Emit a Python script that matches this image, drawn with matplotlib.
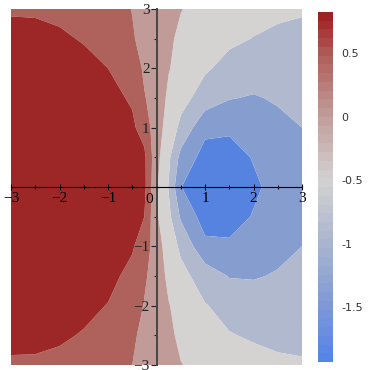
import numpy as np
import matplotlib
matplotlib.use('Agg')
import matplotlib.pyplot as plt
from matplotlib.colors import LinearSegmentedColormap, Normalize, ListedColormap
from matplotlib.cm import ScalarMappable
from matplotlib.ticker import MultipleLocator

# grid nodes (finer near x = 0 where the field changes fast)
xs = [-3, -2.5, -2, -1.5, -1, -0.5, -0.25, 0, 0.25, 0.5, 1, 1.5, 2, 2.5, 3]
ys = [-3, -2.5, -2, -1.5, -1, -0.5, 0, 0.5, 1, 1.5, 2, 2.5, 3]

# values, one row per y (bottom to top)
z_rows = [
    [0.57, 0.56, 0.53, 0.48, 0.40, 0.20, 0.10, 0.00, -0.10, -0.19, -0.30, -0.40, -0.48, -0.54, -0.56],
    [0.66, 0.67, 0.64, 0.58, 0.50, 0.25, 0.12, 0.00, -0.14, -0.26, -0.45, -0.58, -0.64, -0.68, -0.70],
    [0.70, 0.72, 0.71, 0.67, 0.59, 0.38, 0.18, 0.00, -0.18, -0.35, -0.58, -0.72, -0.80, -0.80, -0.78],
    [0.72, 0.75, 0.76, 0.74, 0.68, 0.52, 0.25, 0.04, -0.30, -0.48, -0.78, -1.02, -1.03, -0.97, -0.90],
    [0.74, 0.77, 0.79, 0.79, 0.75, 0.63, 0.45, -0.05, -0.36, -0.68, -1.30, -1.32, -1.22, -1.10, -1.00],
    [0.76, 0.80, 0.81, 0.81, 0.79, 0.72, 0.60, -0.15, -0.50, -1.05, -1.58, -1.60, -1.37, -1.20, -1.12],
    [0.78, 0.80, 0.82, 0.83, 0.82, 0.78, 0.70, -0.15, -0.62, -1.38, -1.88, -1.90, -1.48, -1.25, -1.10],
    [0.77, 0.80, 0.82, 0.82, 0.80, 0.76, 0.68, -0.08, -0.52, -1.12, -1.55, -1.60, -1.37, -1.20, -1.12],
    [0.74, 0.77, 0.79, 0.79, 0.76, 0.66, 0.45, -0.05, -0.34, -0.70, -1.30, -1.32, -1.22, -1.10, -1.00],
    [0.72, 0.75, 0.76, 0.75, 0.70, 0.56, 0.22, 0.05, -0.28, -0.46, -0.78, -0.98, -1.03, -0.96, -0.90],
    [0.70, 0.72, 0.72, 0.68, 0.60, 0.38, 0.15, -0.02, -0.18, -0.33, -0.55, -0.72, -0.80, -0.80, -0.78],
    [0.66, 0.67, 0.64, 0.58, 0.50, 0.23, 0.10, -0.02, -0.15, -0.26, -0.42, -0.53, -0.61, -0.66, -0.68],
    [0.58, 0.57, 0.54, 0.48, 0.40, 0.19, 0.10, 0.00, -0.10, -0.19, -0.30, -0.40, -0.48, -0.54, -0.57],
]

levels = [-2.0, -1.4, -1.0, -0.6, -0.2, 0.2, 0.6, 0.9]
fill_colors = ['#5683e0', '#869dd0', '#b0b9cd', '#d4d3d2', '#c19b97', '#af615c', '#9d2727']

cbar_min, cbar_max = -1.93, 0.825
cbar_ticks = [0.5, 0, -0.5, -1, -1.5]

fig = plt.figure(figsize=(3.7, 3.7), dpi=100)
ax = fig.add_axes([11 / 370, 5 / 370, 291 / 370, 356 / 370])

Z = np.array(z_rows)
ax.contourf(xs, ys, Z, levels=levels, colors=fill_colors, antialiased=True)

ax.set_xlim(-3, 3)
ax.set_ylim(-3, 3)

# axes through the origin
ax.spines['left'].set_position(('data', 0))
ax.spines['bottom'].set_position(('data', 0))
ax.spines['top'].set_visible(False)
ax.spines['right'].set_visible(False)
ax.spines['bottom'].set_color('black')
ax.spines['left'].set_color('#4a4444')
ax.spines['left'].set_linewidth(1.4)
ax.set_axisbelow(False)
for s in ax.spines.values():
    s.set_zorder(5)

ax.xaxis.set_major_locator(MultipleLocator(1))
ax.xaxis.set_minor_locator(MultipleLocator(0.5))
ax.yaxis.set_major_locator(MultipleLocator(1))
ax.yaxis.set_minor_locator(MultipleLocator(0.5))
ax.tick_params(axis='x', which='major', direction='inout', length=5, width=0.8, pad=1,
               labelsize=11, colors='black')
ax.tick_params(axis='x', which='minor', direction='inout', length=3, width=0.8)
ax.tick_params(axis='y', which='major', direction='out', length=4, width=0.8, pad=1,
               labelsize=11, colors='#222222')
ax.tick_params(axis='y', which='minor', direction='out', length=2, width=0.8, color='#222222')

xt = [-3, -2, -1, 0, 1, 2, 3]
ax.set_xticks(xt)
ax.set_xticklabels(['\u22123', '\u22122', '\u22121', '', '1', '2', '3'], family='Liberation Serif')
ax.set_yticks(xt)
ax.set_yticklabels(['\u22123', '\u22122', '\u22121', '', '1', '2', '3'], family='Liberation Serif')
ax.annotate('0', xy=(0, 0), xytext=(-5, -4), textcoords='offset points',
            ha='center', va='top', fontsize=11, family='Liberation Serif')

# colorbar
base = LinearSegmentedColormap.from_list('rb', [
    (0.0, '#5585e6'),
    ((-1.5 - cbar_min) / (cbar_max - cbar_min), '#8099d6'),
    ((-1.0 - cbar_min) / (cbar_max - cbar_min), '#aab5cf'),
    ((-0.5 - cbar_min) / (cbar_max - cbar_min), '#d3d2d2'),
    ((0.0 - cbar_min) / (cbar_max - cbar_min), '#c29f9c'),
    ((0.5 - cbar_min) / (cbar_max - cbar_min), '#b0605c'),
    (1.0, '#9e2222'),
])
stepped = ListedColormap(base(np.linspace(0, 1, 40)))
cax = fig.add_axes([318 / 370, 8 / 370, 15 / 370, 350 / 370])
sm = ScalarMappable(norm=Normalize(cbar_min, cbar_max), cmap=stepped)
cb = fig.colorbar(sm, cax=cax, ticks=cbar_ticks)
cb.outline.set_visible(False)
cb.ax.set_yticklabels(['0.5', '0', '-0.5', '-1', '-1.5'])
cb.ax.tick_params(length=0, pad=6, labelsize=8, colors='#333333')

fig.savefig('out.png', dpi=100)
